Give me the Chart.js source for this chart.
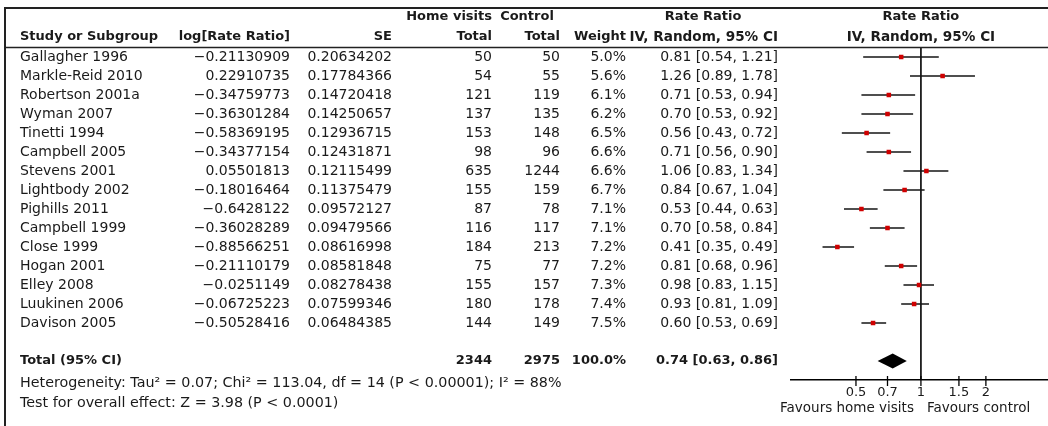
<!DOCTYPE html>
<html lang="en">
<head>
<meta charset="UTF-8">
<title>Home visits vs control - forest plot</title>
<script src="https://cdn.jsdelivr.net/npm/chart.js@4.4.1/dist/chart.umd.min.js"></script>
<style>
  body { margin: 0; background: #fff; overflow: hidden; }
</style>
</head>
<body>
<canvas id="forest" width="1048" height="426"></canvas>
<script>
const studies = ['Gallagher 1996', 'Markle-Reid 2010', 'Robertson 2001a', 'Wyman 2007', 'Tinetti 1994',
  'Campbell 2005', 'Stevens 2001', 'Lightbody 2002', 'Pighills 2011', 'Campbell 1999', 'Close 1999',
  'Hogan 2001', 'Elley 2008', 'Luukinen 2006', 'Davison 2005'];
const logRR = [-0.21130909, 0.22910735, -0.34759773, -0.36301284, -0.58369195, -0.34377154, 0.05501813,
  -0.18016464, -0.6428122, -0.36028289, -0.88566251, -0.21110179, -0.0251149, -0.06725223, -0.50528416];
const se = [0.20634202, 0.17784366, 0.14720418, 0.14250657, 0.12936715, 0.12431871, 0.12115499,
  0.11375479, 0.09572127, 0.09479566, 0.08616998, 0.08581848, 0.08278438, 0.07599346, 0.06484385];
const homeTotal = [50, 54, 121, 137, 153, 98, 635, 155, 87, 116, 184, 75, 155, 180, 144];
const controlTotal = [50, 55, 119, 135, 148, 96, 1244, 159, 78, 117, 213, 77, 157, 178, 149];
const weights = [5.0, 5.6, 6.1, 6.2, 6.5, 6.6, 6.6, 6.7, 7.1, 7.1, 7.2, 7.2, 7.3, 7.4, 7.5];
const rateRatio = [0.81, 1.26, 0.71, 0.70, 0.56, 0.71, 1.06, 0.84, 0.53, 0.70, 0.41, 0.81, 0.98, 0.93, 0.60];
const ciLow = [0.54, 0.89, 0.53, 0.53, 0.43, 0.56, 0.83, 0.67, 0.44, 0.58, 0.35, 0.68, 0.83, 0.81, 0.53];
const ciHigh = [1.21, 1.78, 0.94, 0.92, 0.72, 0.90, 1.34, 1.04, 0.63, 0.84, 0.49, 0.96, 1.15, 1.09, 0.69];

const totalHome = 2344;
const totalControl = 2975;
const totalWeight = 100.0;
const pooled = [0.74, 0.63, 0.86];   // estimate, low, high

const xTicks = [0.5, 0.7, 1, 1.5, 2];
const heterogeneity = 'Heterogeneity: Tau\u00b2 = 0.07; Chi\u00b2 = 113.04, df = 14 (P < 0.00001); I\u00b2 = 88%';
const overallEffect = 'Test for overall effect: Z = 3.98 (P < 0.0001)';

const FAMILY = '"DejaVu Sans", sans-serif';
const INK = '#1a1a1a';
const TOTAL_ROW = 16;

// column edges for the table on the left
const col = { name: 20, logRR: 290, se: 392, home: 492, control: 560, weight: 626, ci: 778 };

const minus = v => String(v).replace('-', '\u2212');
const ciText = (r, l, h) => r.toFixed(2) + ' [' + l.toFixed(2) + ', ' + h.toFixed(2) + ']';

function put(ctx, text, x, y, align, bold, size) {
  ctx.font = (bold ? 'bold ' : '') + (size || (bold ? 13 : 14)) + 'px ' + FAMILY;
  ctx.textAlign = align;
  ctx.fillText(text, x, y);
}

const forestPlugin = {
  id: 'forest',
  beforeDatasetsDraw(chart) {
    const { ctx, chartArea, scales: { x, y } } = chart;
    ctx.save();
    // line of no effect
    const x1 = x.getPixelForValue(1);
    ctx.strokeStyle = '#000';
    ctx.lineWidth = 1.6;
    ctx.beginPath();
    ctx.moveTo(x1, chartArea.top);
    ctx.lineTo(x1, chartArea.bottom);
    ctx.stroke();

    // confidence intervals
    ctx.strokeStyle = '#151515';
    ctx.lineWidth = 1.5;
    studies.forEach((s, i) => {
      const yy = y.getPixelForValue(i);
      ctx.beginPath();
      ctx.moveTo(x.getPixelForValue(ciLow[i]), yy);
      ctx.lineTo(x.getPixelForValue(ciHigh[i]), yy);
      ctx.stroke();
    });

    // pooled diamond
    const yt = y.getPixelForValue(TOTAL_ROW);
    const half = y.getPixelForValue(TOTAL_ROW + 0.4) - yt;
    ctx.fillStyle = '#000';
    ctx.beginPath();
    ctx.moveTo(x.getPixelForValue(pooled[1]), yt);
    ctx.lineTo(x.getPixelForValue(pooled[0]), yt - half);
    ctx.lineTo(x.getPixelForValue(pooled[2]), yt);
    ctx.lineTo(x.getPixelForValue(pooled[0]), yt + half);
    ctx.closePath();
    ctx.fill();

    // tick marks crossing the axis
    ctx.strokeStyle = '#000';
    ctx.lineWidth = 1.3;
    xTicks.forEach(v => {
      const px = x.getPixelForValue(v);
      ctx.beginPath();
      ctx.moveTo(px, chartArea.bottom - 4);
      ctx.lineTo(px, chartArea.bottom + 6);
      ctx.stroke();
    });
    ctx.restore();
  },
  afterDraw(chart) {
    const { ctx, chartArea, scales: { x, y } } = chart;
    const W = chart.width, H = chart.height;
    ctx.save();

    // frame and header rule
    ctx.strokeStyle = '#222';
    ctx.lineWidth = 2;
    ctx.beginPath();
    ctx.moveTo(5, H);
    ctx.lineTo(5, 8);
    ctx.lineTo(W, 8);
    ctx.stroke();
    ctx.lineWidth = 1.5;
    ctx.beginPath();
    ctx.moveTo(5, chartArea.top);
    ctx.lineTo(W, chartArea.top);
    ctx.stroke();

    ctx.fillStyle = INK;
    ctx.textBaseline = 'middle';
    const xc = x.getPixelForValue(1);

    // headers
    put(ctx, 'Home visits', col.home, 17, 'right', true);
    put(ctx, 'Control', 527, 17, 'center', true);
    put(ctx, 'Rate Ratio', 703, 17, 'center', true);
    put(ctx, 'Rate Ratio', xc, 17, 'center', true);
    put(ctx, 'Study or Subgroup', col.name, 37, 'left', true);
    put(ctx, 'log[Rate Ratio]', col.logRR, 37, 'right', true);
    put(ctx, 'SE', col.se, 37, 'right', true);
    put(ctx, 'Total', col.home, 37, 'right', true);
    put(ctx, 'Total', col.control, 37, 'right', true);
    put(ctx, 'Weight', col.weight, 37, 'right', true);
    put(ctx, 'IV, Random, 95% CI', col.ci, 37, 'right', true, 13.6);
    put(ctx, 'IV, Random, 95% CI', xc, 37, 'center', true, 13.6);

    // study rows
    studies.forEach((s, i) => {
      const yy = y.getPixelForValue(i);
      put(ctx, s, col.name, yy, 'left');
      put(ctx, minus(logRR[i]), col.logRR, yy, 'right');
      put(ctx, String(se[i]), col.se, yy, 'right');
      put(ctx, String(homeTotal[i]), col.home, yy, 'right');
      put(ctx, String(controlTotal[i]), col.control, yy, 'right');
      put(ctx, weights[i].toFixed(1) + '%', col.weight, yy, 'right');
      put(ctx, ciText(rateRatio[i], ciLow[i], ciHigh[i]), col.ci, yy, 'right');
    });

    // total row
    const yt = y.getPixelForValue(TOTAL_ROW);
    put(ctx, 'Total (95% CI)', col.name, yt, 'left', true);
    put(ctx, String(totalHome), col.home, yt, 'right', true);
    put(ctx, String(totalControl), col.control, yt, 'right', true);
    put(ctx, totalWeight.toFixed(1) + '%', col.weight, yt, 'right', true);
    put(ctx, ciText(pooled[0], pooled[1], pooled[2]), col.ci, yt, 'right', true);

    put(ctx, heterogeneity, col.name, 383, 'left', false, 14.3);
    put(ctx, overallEffect, col.name, 403, 'left', false, 14.3);

    // favours labels
    put(ctx, 'Favours home visits', xc - 7, 408, 'right', false, 13.5);
    put(ctx, 'Favours control', xc + 6, 408, 'left', false, 13.5);
    ctx.restore();
  }
};

new Chart(document.getElementById('forest'), {
  type: 'scatter',
  data: {
    datasets: [{
      data: studies.map((s, i) => ({ x: rateRatio[i], y: i })),
      pointStyle: 'rect',
      pointRadius: 3.2,
      backgroundColor: '#d00000',
      borderColor: '#d00000',
      borderWidth: 0
    }]
  },
  options: {
    responsive: false,
    animation: false,
    events: [],
    layout: { autoPadding: false, padding: { left: 791, right: 0, top: 47.5, bottom: 0 } },
    plugins: { legend: { display: false }, tooltip: { enabled: false } },
    scales: {
      x: {
        type: 'logarithmic',
        min: 0.25,
        max: 3.88,
        bounds: 'data',
        afterBuildTicks: s => { s.ticks = xTicks.map(v => ({ value: v })); },
        afterFit: s => { s.height = 46; },
        grid: { display: false, drawTicks: false },
        border: { display: true, color: '#000', width: 1.5 },
        ticks: {
          autoSkip: false, maxRotation: 0, padding: 5, color: INK,
          font: { family: FAMILY, size: 13 },
          callback: v => String(v)
        }
      },
      y: { type: 'linear', display: false, reverse: true, min: -0.5, max: 17 }
    }
  },
  plugins: [forestPlugin]
});
</script>
</body>
</html>
